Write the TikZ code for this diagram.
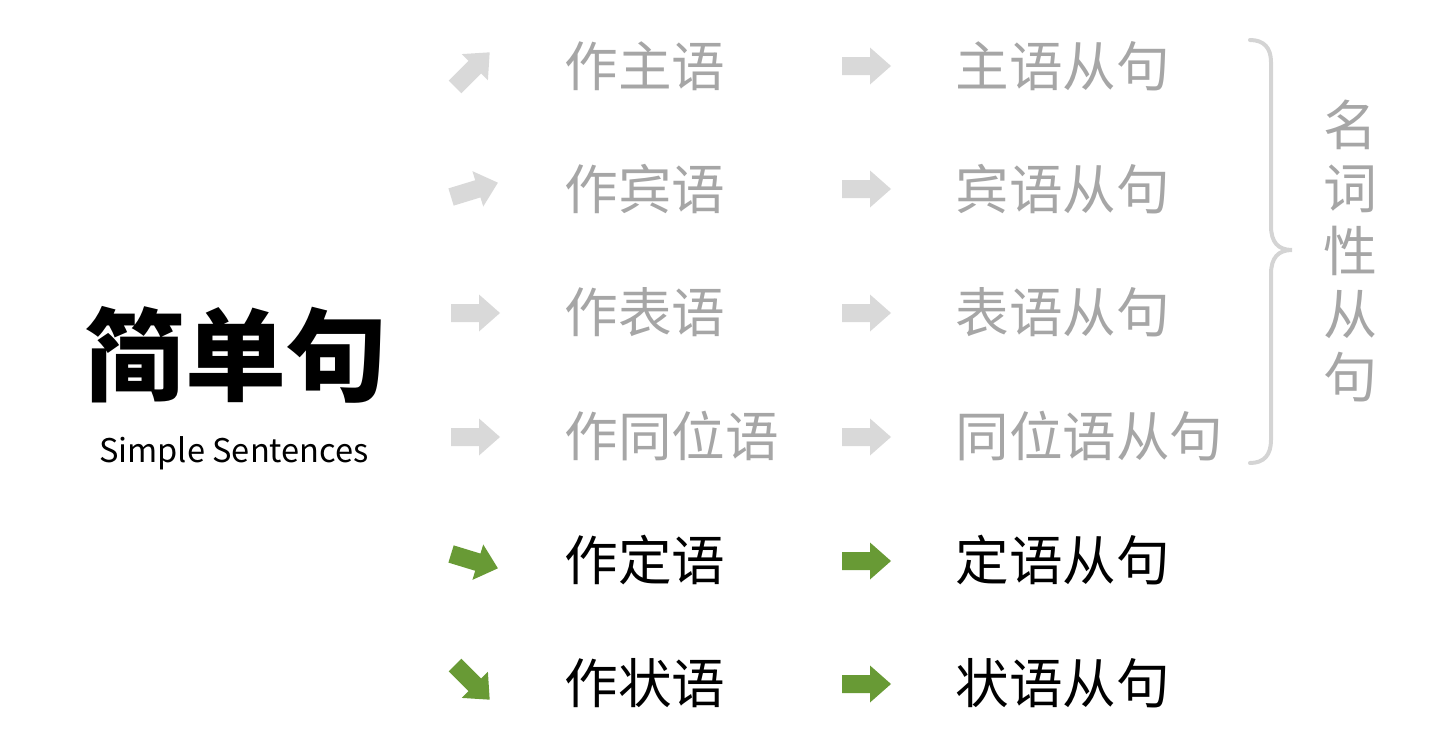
\documentclass[tikz,border=0pt]{standalone}
\usepackage{fontspec}
\setmainfont{Noto Sans CJK SC}
\newfontfamily\cjk{Noto Sans CJK SC}
\definecolor{arrowgray}{HTML}{D9D9D9}
\definecolor{textgray}{HTML}{A6A6A6}
\definecolor{bracegray}{HTML}{D4D4D4}
\definecolor{leafgreen}{HTML}{689A35}
\tikzset{
  barrow/.pic={\fill (-24,-9) -- (4,-9) -- (4,-18.5) -- (25,0) -- (4,18.5) -- (4,9) -- (-24,9) -- cycle;},
  lbl/.style={anchor=west,inner sep=0pt,font=\cjk\fontsize{26.8}{30}\selectfont},
  grey/.style={text=textgray},
  dark/.style={text=black},
}
\begin{document}
\begin{tikzpicture}[x=0.5pt,y=-0.5pt]
\useasboundingbox (0,0) rectangle (1453,739);
% title
\node[inner sep=0pt,font=\cjk\bfseries\fontsize{50.5}{55}\selectfont] (title) at (236,355) {简单句};
\node[inner sep=0pt,font=\cjk\fontsize{16.3}{20}\selectfont] (sub) at (234,453) {Simple Sentences};
% left arrows
\pic[fill=arrowgray,rotate=45] (la1) at (472,70) {barrow};
\pic[fill=arrowgray,rotate=17] (la2) at (474,190) {barrow};
\pic[fill=arrowgray] (la3) at (475,313) {barrow};
\pic[fill=arrowgray] (la4) at (475,437) {barrow};
\pic[fill=leafgreen,rotate=-17] (la5) at (474,561) {barrow};
\pic[fill=leafgreen,rotate=-45] (la6) at (472,682) {barrow};
% middle arrows
\pic[fill=arrowgray] (ma1) at (866,66) {barrow};
\pic[fill=arrowgray] (ma2) at (866,189) {barrow};
\pic[fill=arrowgray] (ma3) at (866,313) {barrow};
\pic[fill=arrowgray] (ma4) at (866,437) {barrow};
\pic[fill=leafgreen] (ma5) at (866,561) {barrow};
\pic[fill=leafgreen] (ma6) at (866,684) {barrow};
% first column
\node[lbl,grey] (c1) at (564,66) {作主语};
\node[lbl,grey] (c2) at (564,189) {作宾语};
\node[lbl,grey] (c3) at (564,312) {作表语};
\node[lbl,grey] (c4) at (564,436) {作同位语};
\node[lbl,dark] (c5) at (564,560) {作定语};
\node[lbl,dark] (c6) at (564,683) {作状语};
% second column
\node[lbl,grey] (d1) at (955,66) {主语从句};
\node[lbl,grey] (d2) at (955,189) {宾语从句};
\node[lbl,grey] (d3) at (955,312) {表语从句};
\node[lbl,grey] (d4) at (955,436) {同位语从句};
\node[lbl,dark] (d5) at (955,560) {定语从句};
\node[lbl,dark] (d6) at (955,683) {状语从句};
% brace
\draw[bracegray,line width=2pt,line cap=round]
  (1250,40) .. controls (1264,40) and (1271,48) .. (1271,62)
  -- (1271,226) .. controls (1271,242) and (1278,250) .. (1292,250)
  .. controls (1278,250) and (1271,258) .. (1271,274)
  -- (1271,440) .. controls (1271,455) and (1264,463) .. (1250,463);
\node[inner sep=0pt,align=center,text=textgray,font=\cjk\fontsize{27}{31.5}\selectfont] (side) at (1350,251) {名\\词\\性\\从\\句};
\end{tikzpicture}
\end{document}
